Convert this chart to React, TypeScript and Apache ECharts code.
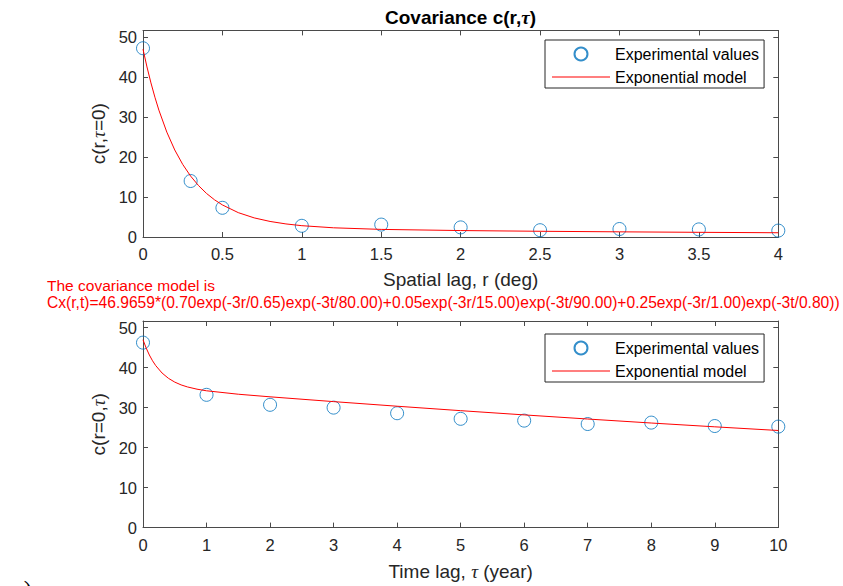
import React, { useEffect, useRef } from "react";
import * as echarts from "echarts";

// ---- data ----
const R_EXP = [0, 0.3, 0.5, 1, 1.5, 2, 2.5, 3, 3.5, 4];
const C_R_EXP = [47.2, 14.0, 7.3, 2.8, 3.1, 2.4, 1.7, 2.0, 1.9, 1.6];

const R_MODEL = [0, 0.025, 0.05, 0.075, 0.1, 0.15, 0.2, 0.25, 0.3, 0.35, 0.4, 0.45, 0.5, 0.6, 0.7, 0.8, 0.9, 1.0, 1.2, 1.5, 2, 2.5, 3, 3.5, 4];
const C_R_MODEL = [46.97, 42.52, 38.53, 34.95, 31.72, 26.22, 21.76, 18.15, 15.22, 12.84, 10.89, 9.31, 8.02, 6.09, 4.78, 3.89, 3.27, 2.83, 2.30, 1.90, 1.61, 1.43, 1.29, 1.17, 1.06];

const T_EXP = [0, 1, 2, 3, 4, 5, 6, 7, 8, 9, 10];
const C_T_EXP = [46.25, 33.2, 30.7, 30.0, 28.6, 27.2, 26.75, 25.9, 26.25, 25.4, 25.25];

const T_MODEL = [0, 0.05, 0.1, 0.15, 0.2, 0.3, 0.4, 0.5, 0.6, 0.7, 0.85, 1, 1.5, 2, 3, 4, 5, 6, 7, 8, 9, 10];
const C_T_MODEL = [46.97, 44.9, 43.16, 41.72, 40.51, 38.65, 37.33, 36.38, 35.68, 35.17, 34.61, 34.21, 33.35, 32.7, 31.5, 30.35, 29.24, 28.18, 27.15, 26.15, 25.2, 24.28];

const Y_MAX = 51.66;
const R_MAX = 4;
const T_MAX = 10;
const SERIES_NAMES = ["Experimental values", "Exponential model"];
const MODEL_TEXT_1 = "The covariance model is";
const MODEL_TEXT_2 =
  "Cx(r,t)=46.9659*(0.70exp(-3r/0.65)exp(-3t/80.00)+0.05exp(-3r/15.00)exp(-3t/90.00)+0.25exp(-3r/1.00)exp(-3t/0.80))";

// ---- styling ----
const FONT = '"Liberation Sans", Arial, Helvetica, sans-serif';
const SERIF = '"Liberation Serif", "DejaVu Serif", serif';
const AX = "#4a4a4a";
const TXT = "#262626";
const BLUE = "#0072BD";
const RED = "#FF0000";

const tauRich = {
  a: { fontFamily: FONT, fontSize: 19, color: TXT },
  t: { fontFamily: SERIF, fontStyle: "italic", fontSize: 19, color: TXT },
};

function axisBase(show: boolean) {
  return {
    type: "value" as const,
    min: 0,
    axisLine: { show: true, onZero: false, lineStyle: { color: AX, width: 1 } },
    axisTick: { show: true, inside: true, length: 5, lineStyle: { color: AX, width: 1 } },
    splitLine: { show: false },
    axisLabel: show
      ? { show: true, fontFamily: FONT, fontSize: 16.5, color: TXT }
      : { show: false },
  };
}

export default function App() {
  const ref = useRef<HTMLDivElement>(null);

  useEffect(() => {
    if (!ref.current) return;
    const chart = echarts.init(ref.current, undefined, { renderer: "svg" });

    const gridTop = { left: 143, top: 30.4, width: 635.3, height: 206.6 };
    const gridBot = { left: 143, top: 321, width: 635.3, height: 206.6 };

    const legendBase = {
      orient: "vertical" as const,
      left: 545,
      itemWidth: 58,
      itemHeight: 13,
      itemGap: 7,
      padding: [6, 5, 3, 7],
      borderColor: "#262626",
      borderWidth: 1,
      borderRadius: 0,
      backgroundColor: "#ffffff",
      symbolKeepAspect: true,
      textStyle: { fontFamily: FONT, fontSize: 16, color: "#000" },
      data: [
        { name: SERIES_NAMES[0], icon: "circle" },
        { name: SERIES_NAMES[1], icon: "path://M0,0 L58,0 L58,1 L0,1 Z" },
      ],
      selectedMode: false,
    };

    const option: any = {
      animation: false,
      backgroundColor: "#ffffff",
      grid: [gridTop, gridBot],
      xAxis: [
        {
          ...axisBase(true),
          gridIndex: 0,
          position: "bottom",
          max: R_MAX,
          interval: 0.5,
          axisLabel: { ...axisBase(true).axisLabel, margin: 8 },
          name: "{a|Spatial lag, r (deg)}",
          nameLocation: "middle",
          nameGap: 33,
          nameTextStyle: { rich: tauRich },
        },
        { ...axisBase(false), gridIndex: 0, position: "top", max: R_MAX, interval: 0.5 },
        {
          ...axisBase(true),
          gridIndex: 1,
          position: "bottom",
          max: T_MAX,
          interval: 1,
          axisLabel: { ...axisBase(true).axisLabel, margin: 9 },
          name: "{a|Time lag, }{t|τ}{a| (year)}",
          nameLocation: "middle",
          nameGap: 34,
          nameTextStyle: { rich: tauRich },
        },
        { ...axisBase(false), gridIndex: 1, position: "top", max: T_MAX, interval: 1 },
      ],
      yAxis: [
        {
          ...axisBase(true),
          gridIndex: 0,
          position: "left",
          max: Y_MAX,
          interval: 10,
          axisLabel: { ...axisBase(true).axisLabel, margin: 6, showMaxLabel: false },
          name: "{a|c(r,}{t|τ}{a|=0)}",
          nameLocation: "middle",
          nameGap: 30,
          nameTextStyle: { rich: tauRich },
        },
        { ...axisBase(false), gridIndex: 0, position: "right", max: Y_MAX, interval: 10 },
        {
          ...axisBase(true),
          gridIndex: 1,
          position: "left",
          max: Y_MAX,
          interval: 10,
          axisLabel: { ...axisBase(true).axisLabel, margin: 6, showMaxLabel: false },
          name: "{a|c(r=0,}{t|τ}{a|)}",
          nameLocation: "middle",
          nameGap: 30,
          nameTextStyle: { rich: tauRich },
        },
        { ...axisBase(false), gridIndex: 1, position: "right", max: Y_MAX, interval: 10 },
      ],
      legend: [
        { ...legendBase, top: 40 },
        { ...legendBase, top: 334 },
      ],
      series: [
        {
          name: SERIES_NAMES[0],
          type: "scatter",
          xAxisIndex: 0,
          yAxisIndex: 0,
          symbol: "circle",
          symbolSize: 13,
          z: 2,
          itemStyle: { color: "rgba(255,255,255,0)", borderColor: BLUE, borderWidth: 1 },
          data: R_EXP.map((r, i) => [r, C_R_EXP[i]]),
        },
        {
          name: SERIES_NAMES[1],
          type: "line",
          xAxisIndex: 0,
          yAxisIndex: 0,
          symbol: "none",
          z: 3,
          lineStyle: { color: RED, width: 1 },
          itemStyle: { color: RED },
          data: R_MODEL.map((r, i) => [r, C_R_MODEL[i]]),
        },
        {
          name: SERIES_NAMES[0],
          type: "scatter",
          xAxisIndex: 2,
          yAxisIndex: 2,
          symbol: "circle",
          symbolSize: 13,
          z: 2,
          itemStyle: { color: "rgba(255,255,255,0)", borderColor: BLUE, borderWidth: 1 },
          data: T_EXP.map((t, i) => [t, C_T_EXP[i]]),
        },
        {
          name: SERIES_NAMES[1],
          type: "line",
          xAxisIndex: 2,
          yAxisIndex: 2,
          symbol: "none",
          z: 3,
          lineStyle: { color: RED, width: 1 },
          itemStyle: { color: RED },
          data: T_MODEL.map((t, i) => [t, C_T_MODEL[i]]),
        },
      ],
      graphic: [
        {
          type: "text",
          x: 460.5,
          y: 17,
          style: {
            text: "{b|Covariance c(r,}{t|τ}{b|)}",
            align: "center",
            verticalAlign: "middle",
            rich: {
              b: { fontFamily: FONT, fontSize: 19, fontWeight: "bold", fill: "#000" },
              t: { fontFamily: SERIF, fontStyle: "italic", fontSize: 19, fontWeight: "bold", fill: "#000" },
            },
          },
        },
        {
          type: "text",
          x: 47,
          y: 285,
          style: {
            text: MODEL_TEXT_1,
            fontFamily: FONT,
            fontSize: 15.5,
            fill: RED,
            align: "left",
            verticalAlign: "middle",
          },
        },
        {
          type: "text",
          x: 47,
          y: 302,
          style: {
            text: MODEL_TEXT_2,
            fontFamily: FONT,
            fontSize: 15.6,
            fill: RED,
            align: "left",
            verticalAlign: "middle",
          },
        },
        {
          type: "text",
          x: 13,
          y: 577,
          style: {
            text: "c)",
            fontFamily: SERIF,
            fontSize: 24,
            fill: "#000",
            align: "left",
            verticalAlign: "top",
          },
        },
      ],
    };

    chart.setOption(option);
    return () => chart.dispose();
  }, []);

  return (
    <div
      ref={ref}
      style={{ position: "fixed", left: 0, top: 0, width: 843, height: 586, background: "#fff" }}
    />
  );
}
